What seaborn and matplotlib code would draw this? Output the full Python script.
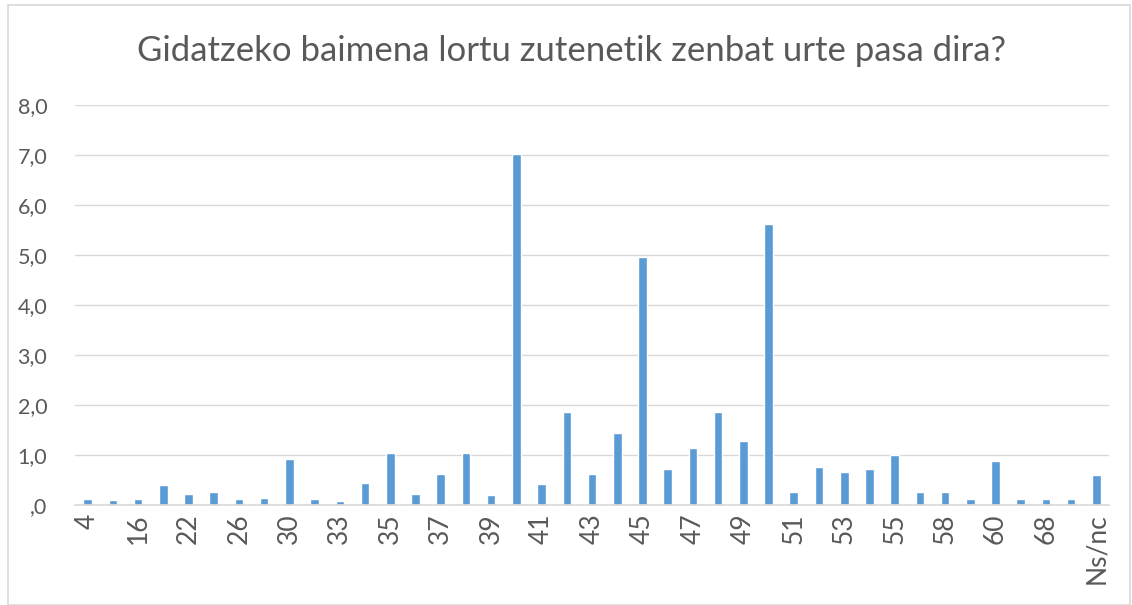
import matplotlib.pyplot as plt
from matplotlib.patches import Rectangle
from matplotlib.ticker import FuncFormatter
import seaborn as sns

# Years since getting the driving licence (every other category is labelled)
years = ['4', '15', '16', '20', '22', '25', '26', '28', '30', '32',
         '33', '34', '35', '36', '37', '38', '39', '40', '41', '42',
         '43', '44', '45', '46', '47', '48', '49', '50', '51', '52',
         '53', '54', '55', '57', '58', '59', '60', '65', '68', '70', 'Ns/nc']
percent = [0.12, 0.09, 0.12, 0.40, 0.22, 0.26, 0.12, 0.13, 0.91, 0.12,
           0.08, 0.43, 1.03, 0.22, 0.62, 1.03, 0.20, 7.03, 0.41, 1.86,
           0.61, 1.44, 4.96, 0.72, 1.13, 1.87, 1.28, 5.63, 0.25, 0.75,
           0.65, 0.72, 1.00, 0.26, 0.25, 0.12, 0.88, 0.12, 0.12, 0.12, 0.60]
shown_labels = years[::2]

sns.set_style('white')
plt.rcParams['font.family'] = ['Lato', 'DejaVu Sans']
text_color = '#595959'

fig = plt.figure(figsize=(11.32, 6.05), dpi=100)
ax = fig.add_axes([0.0663, 0.1653, 0.9134, 0.6611])

# Light outer border of the chart
fig.patches.append(Rectangle((0.007, 0.0), 0.991, 0.992, transform=fig.transFigure,
                             fill=False, edgecolor='#D9D9D9', linewidth=1.2))

sns.barplot(x=years, y=percent, order=years, color='#5B9BD5', width=0.34,
            saturation=1, ax=ax)

ax.set_ylim(0, 8)
ax.set_xlim(-0.5, len(years) - 0.5)
ax.set_yticks(range(0, 9))
ax.yaxis.set_major_formatter(FuncFormatter(
    lambda v, _: ',0' if v == 0 else f'{v:.1f}'.replace('.', ',')))
ax.set_xticks(range(0, len(years), 2))
ax.set_xticklabels(shown_labels, rotation=90)

ax.grid(axis='y', color='#D9D9D9', linewidth=1)
ax.set_axisbelow(True)
for side in ['top', 'right', 'left']:
    ax.spines[side].set_visible(False)
ax.spines['bottom'].set_color('#D9D9D9')
ax.spines['bottom'].set_linewidth(1.2)
ax.tick_params(axis='y', length=0, labelsize=15.5, colors=text_color, pad=20)
ax.tick_params(axis='x', length=0, labelsize=19, colors=text_color, pad=6)
ax.set(xlabel='', ylabel='')

fig.text(0.505, 0.915, 'Gidatzeko baimena lortu zutenetik zenbat urte pasa dira?',
         ha='center', va='center', fontsize=25, color=text_color)

fig.savefig('out.png', dpi=100)
